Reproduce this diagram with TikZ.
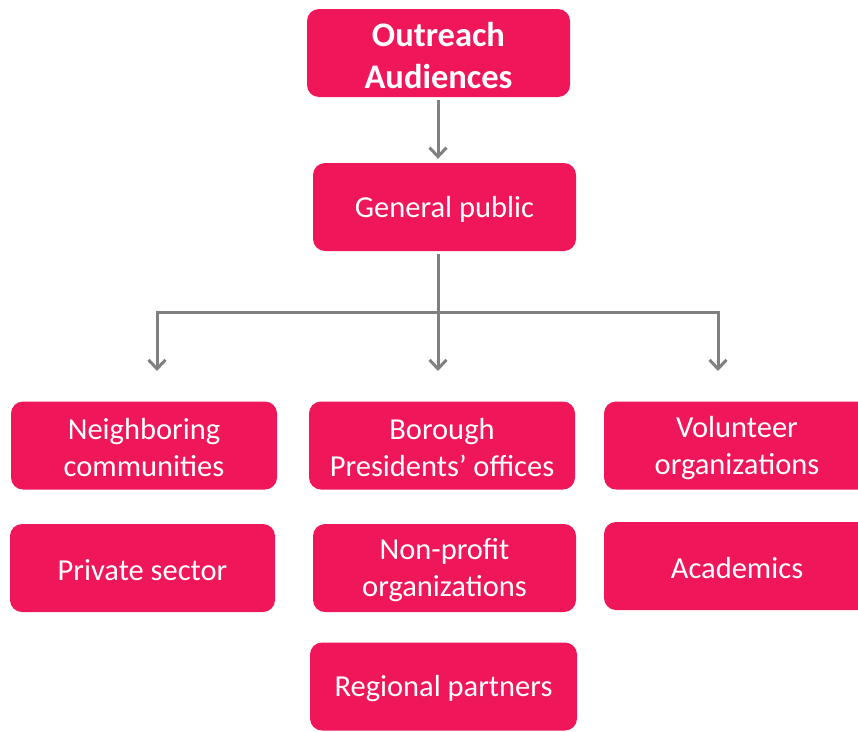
\documentclass[tikz,border=0pt]{standalone}
\usepackage{fontspec}
\setmainfont{Carlito}
\usetikzlibrary{arrows.meta}
\definecolor{boxpink}{RGB}{239,22,90}
\definecolor{conngray}{RGB}{128,128,128}
\newcommand\pinkbox[5][box]{%
  \node[#1, minimum width=#4] (#2) at (#3) {};
  \node[txt, #1txt] (#2t) at ([yshift=-2.5pt]#2.center) {#5};}
\begin{document}
\begin{tikzpicture}[x=1pt,y=-1pt,
  box/.style={fill=boxpink, rounded corners=12pt, inner sep=0pt, minimum height=88pt},
  headbox/.style={box},
  txt/.style={text=white, align=center, inner sep=0pt},
  boxtxt/.style={font=\fontsize{30.5}{37}\selectfont},
  headboxtxt/.style={font=\fontsize{34.5}{42}\selectfont\bfseries},
  conn/.style={draw=conngray, line width=3pt},
  arr/.style={conn, -{Straight Barb[length=9pt,width=17pt]}}]
\useasboundingbox (0,0) rectangle (858,731);
\clip (0,0) rectangle (858,731);
\pinkbox[headbox]{outreach}{438.5,53}{263pt}{Outreach\\Audiences}
\pinkbox{general}{444.5,207}{263pt}{General public}
\pinkbox{neigh}{144,445.5}{266pt}{Neighboring\\communities}
\pinkbox{borough}{442,445.5}{266pt}{Borough\\Presidents’ offices}
\pinkbox{volunteer}{737,445.5}{266pt}{Volunteer\\organizations}
\pinkbox{private}{142.5,568}{265pt}{Private sector}
\pinkbox{nonprofit}{444.5,568}{263pt}{Non-profit\\organizations}
\pinkbox{academics}{737,566}{266pt}{Academics}
\pinkbox{regional}{443.5,686.5}{267pt}{Regional partners}
% connectors
\coordinate (hub) at (438,312);
\coordinate (hubL) at (157,312);
\coordinate (hubR) at (718,312);
\coordinate (tipL) at (157,371);
\coordinate (tipM) at (438,371);
\coordinate (tipR) at (718,371);
\draw[arr] ([yshift=-3pt]outreach.south -| hub) -- ([yshift=4pt]general.north -| hub);
\draw[conn] ([yshift=-3pt]general.south -| hub) -- (hub);
\draw[conn] (hubL) -- (hubR);
\draw[arr] (hub) -- (tipM);
\draw[arr] ([yshift=1.5pt]hubL) -- (tipL);
\draw[arr] ([yshift=1.5pt]hubR) -- (tipR);
\end{tikzpicture}
\end{document}
